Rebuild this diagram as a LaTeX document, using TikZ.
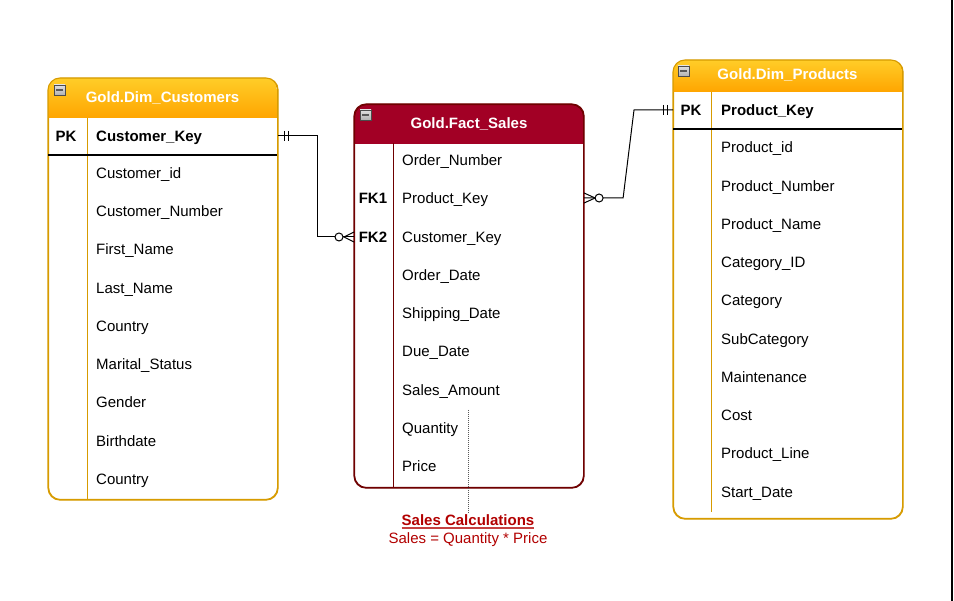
\documentclass[tikz,border=0pt]{standalone}
\usepackage{fontspec}
\setmainfont{Liberation Sans}
\usetikzlibrary{calc}
\definecolor{ornT}{HTML}{FFCD28}
\definecolor{ornB}{HTML}{FFA500}
\definecolor{ornD}{HTML}{D79B00}
\definecolor{redF}{HTML}{A20025}
\definecolor{redD}{HTML}{6F0000}
\definecolor{noteR}{HTML}{B20000}
\newcommand\hdrgrad[4]{%
  \begin{scope}
    \clip[rounded corners=12pt] (#1,#2) rectangle (#3,#4+30);
    \foreach \i in {0,...,39} {%
      \pgfmathsetmacro\p{100-2.5*\i}
      \fill[ornT!\p!ornB] (#1,{#2+(#4-#2)*\i/40}) rectangle (#3,{#2+(#4-#2)*(\i+1)/40+0.4});
    }
  \end{scope}}
\begin{document}
\begin{tikzpicture}[x=1pt,y=-1pt,
  fld/.style={anchor=west, inner sep=0pt, text height=10.7pt, text depth=0pt, font=\fontsize{15}{18}\selectfont},
  key/.style={fld, font=\fontsize{15}{18}\selectfont\bfseries},
  keyc/.style={key, anchor=center},
  hdr/.style={anchor=center, inner sep=0pt, text height=10.7pt, text depth=0pt, font=\fontsize{15}{18}\selectfont\bfseries, text=white},
  otbl/.style={draw=ornD, line width=1.1pt, rounded corners=12pt, anchor=north west, inner sep=0pt, fill=white},
  rtbl/.style={draw=redD, line width=1.1pt, rounded corners=12pt, anchor=north west, inner sep=0pt, fill=white,
    path picture={\fill[sharp corners, redF] (path picture bounding box.north west) rectangle ([yshift=-#1]path picture bounding box.north east);}},
  conn/.style={black, line width=1pt},
  notetxt/.style={anchor=center, inner sep=0pt, text height=10.7pt, text depth=0pt, font=\fontsize{15}{18}\selectfont, text=noteR},
  mini/.pic={\draw[top color=gray!25, bottom color=gray!60, draw=gray!60!black, line width=0.6pt] (0,0) rectangle (11,10);
             \draw[line width=1.6pt, black!65] (2,5) -- (9,5);}
]
\useasboundingbox (0,0) rectangle (954,601);
\fill[white] (0,0) rectangle (954,601);
\fill[black] (951,0) rectangle (953,601);

% ---------- Customers ----------
\node[otbl, minimum width=229pt, minimum height=421pt] (cust) at (48,78) {};
\hdrgrad{48}{78}{277}{118}
\draw[ornD, line width=1.1pt, rounded corners=12pt] (cust.north west) rectangle (cust.south east);
\draw[ornD, line width=1pt] (87,118) -- (87,499);
\draw[black, line width=1.2pt] (48,155) -- (277,155);
\pic at (54,85) {mini};
\node[hdr] (custh) at (162.5,97) {Gold.Dim\_Customers};
\node[keyc] (cpk) at (66,136) {PK};
\node[key] (ckey) at (96,136) {Customer\_Key};
\node[fld] (c1) at (96,173) {Customer\_id};
\node[fld] (c2) at (96,211) {Customer\_Number};
\node[fld] (c3) at (96,249) {First\_Name};
\node[fld] (c4) at (96,288) {Last\_Name};
\node[fld] (c5) at (96,326) {Country};
\node[fld] (c6) at (96,364) {Marital\_Status};
\node[fld] (c7) at (96,402) {Gender};
\node[fld] (c8) at (96,441) {Birthdate};
\node[fld] (c9) at (96,479) {Country};

% ---------- Fact Sales ----------
\node[rtbl=39pt, minimum width=229pt, minimum height=383pt] (fact) at (354,104) {};
\draw[redD, line width=1.1pt, rounded corners=12pt] (fact.north west) rectangle (fact.south east);
\draw[redD, line width=1pt] (393,143) -- (393,487);
\pic at (360,110) {mini};
\node[hdr] (facth) at (469,123) {Gold.Fact\_Sales};
\node[fld] (f1) at (402,160) {Order\_Number};
\node[keyc] (fk1l) at (373,198) {FK1};
\node[fld] (fk1) at (402,198) {Product\_Key};
\node[keyc] (fk2l) at (373,237) {FK2};
\node[fld] (fk2) at (402,237) {Customer\_Key};
\node[fld] (f4) at (402,275) {Order\_Date};
\node[fld] (f5) at (402,313) {Shipping\_Date};
\node[fld] (f6) at (402,351) {Due\_Date};
\node[fld] (f7) at (402,390) {Sales\_Amount};
\node[fld] (f8) at (402,428) {Quantity};
\node[fld] (f9) at (402,466) {Price};

% ---------- Products ----------
\node[otbl, minimum width=229pt, minimum height=458pt] (prod) at (673,60) {};
\hdrgrad{673}{60}{902}{92}
\draw[ornD, line width=1.1pt, rounded corners=12pt] (prod.north west) rectangle (prod.south east);
\draw[ornD, line width=1pt] (711,92) -- (711,512);
\draw[black, line width=1.5pt] (673,129) -- (902,129);
\pic at (678,66) {mini};
\node[hdr] (prodh) at (787.5,74) {Gold.Dim\_Products};
\node[keyc] (ppk) at (691,110) {PK};
\node[key] (pkey) at (721,110) {Product\_Key};
\node[fld] (p1) at (721,147) {Product\_id};
\node[fld] (p2) at (721,186) {Product\_Number};
\node[fld] (p3) at (721,224) {Product\_Name};
\node[fld] (p4) at (721,262) {Category\_ID};
\node[fld] (p5) at (721,300) {Category};
\node[fld] (p6) at (721,339) {SubCategory};
\node[fld] (p7) at (721,377) {Maintenance};
\node[fld] (p8) at (721,415) {Cost};
\node[fld] (p9) at (721,453) {Product\_Line};
\node[fld] (p10) at (721,492) {Start\_Date};

% ---------- Connector: Customers -> Fact ----------
\coordinate (a1) at (cust.east |- ckey);
\coordinate (a2) at (fact.west |- fk2);
\draw[conn] (a1) -- ($(a1)+(39,0)$) |- (a2);
\draw[conn] ($(a1)+(6,-5)$) -- ++(0,10);
\draw[conn] ($(a1)+(10,-5)$) -- ++(0,10);
\draw[conn] ($(a2)+(0,-5)$) -- ($(a2)+(-10,0)$) -- ($(a2)+(0,5)$);
\draw[conn, fill=white] ($(a2)+(-15,0)$) circle (4);

% ---------- Connector: Fact -> Products ----------
\coordinate (b1) at (fact.east |- fk1);
\coordinate (b2) at (prod.west |- pkey);
\draw[conn] (b1) -- ($(b1)+(39,0)$) -- ($(b2)+(-39,0)$) -- (b2);
\draw[conn] ($(b1)+(0,-5)$) -- ($(b1)+(11,0)$) -- ($(b1)+(0,5)$);
\draw[conn, fill=white] ($(b1)+(15,0)$) circle (4);
\draw[conn] ($(b2)+(-10,-5)$) -- ++(0,10);
\draw[conn] ($(b2)+(-6,-5)$) -- ++(0,10);

% ---------- Note ----------
\node[notetxt] (notet) at (468,520) {\textbf{Sales Calculations}};
\draw[noteR!75, line width=1.2pt] ($(notet.south west)+(0,2.5)$) -- ($(notet.south east)+(0,2.5)$);
\node[notetxt] (noteb) at (468,538) {Sales = Quantity * Price};
\coordinate (dtop) at (468,410);
\draw[gray!70!black, line width=1pt, dash pattern=on 1pt off 1pt] (dtop) -- ($(notet.north)+(0,-2)$);
\end{tikzpicture}
\end{document}
